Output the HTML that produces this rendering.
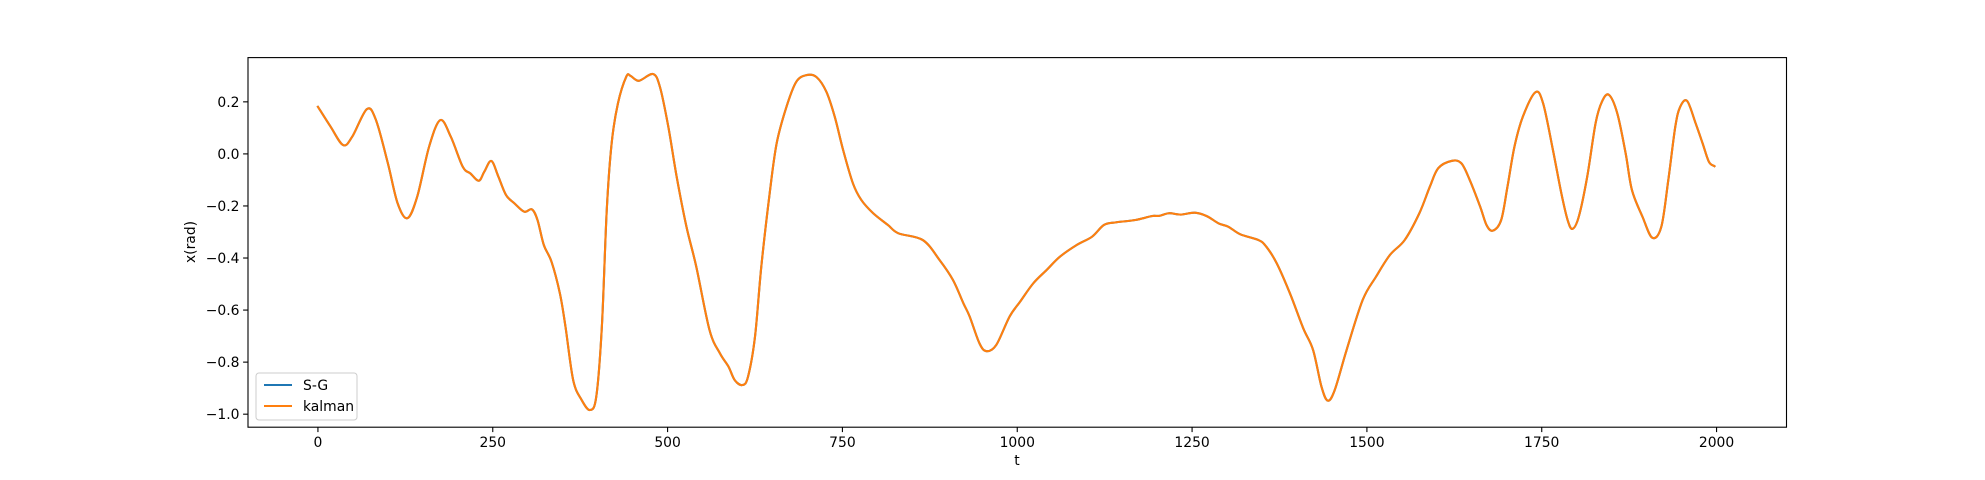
<!DOCTYPE html>
<html><head><meta charset="utf-8">
<style>
html,body{margin:0;padding:0;background:#fff;}
svg{display:block;font-family:"DejaVu Sans","Liberation Sans",sans-serif;}
</style></head>
<body>
<svg id="chart" width="1985" height="480" viewBox="0 0 1985 480" xmlns="http://www.w3.org/2000/svg">
<rect x="0" y="0" width="1985" height="480" fill="#fff"/>
<g id="plot"></g>
<g id="axes"></g>
</svg>
<script>
const tValues=[0,18,36,49,70,83,100,114,128,142,159,175,190,207,218,230,238,248,258,269,281,295,306,314,323,334,346,354,365,377,389,398,406,413,420,429,441,447,459,479,489,501,513,527,541,560,575,587,596,607,615,625,634,646,656,670,684,699,713,727,739,751,765,777,794,815,830,865,889,908,923,932,946,956,970,989,1004,1023,1042,1061,1085,1107,1124,1141,1169,1192,1203,1217,1234,1254,1271,1288,1302,1319,1345,1356,1371,1390,1409,1423,1435,1444,1454,1471,1494,1513,1533,1554,1575,1590,1602,1621,1635,1647,1662,1671,1680,1692,1701,1711,1723,1741,1752,1766,1778,1787,1794,1803,1815,1827,1836,1846,1858,1870,1879,1894,1908,1921,1931,1941,1948,1958,1970,1980,1989,1997];
const kalmanValues=[0.181,0.105,0.034,0.066,0.172,0.13,-0.036,-0.19,-0.247,-0.164,0.028,0.13,0.066,-0.049,-0.075,-0.103,-0.068,-0.027,-0.087,-0.158,-0.19,-0.222,-0.213,-0.254,-0.35,-0.414,-0.536,-0.664,-0.869,-0.945,-0.984,-0.933,-0.664,-0.216,0.041,0.194,0.297,0.3,0.281,0.307,0.258,0.105,-0.088,-0.28,-0.433,-0.677,-0.767,-0.817,-0.869,-0.888,-0.856,-0.702,-0.433,-0.151,0.041,0.181,0.277,0.303,0.295,0.239,0.143,0.015,-0.113,-0.177,-0.228,-0.273,-0.305,-0.331,-0.408,-0.484,-0.574,-0.625,-0.728,-0.758,-0.734,-0.625,-0.568,-0.497,-0.446,-0.395,-0.35,-0.318,-0.273,-0.263,-0.254,-0.239,-0.238,-0.228,-0.233,-0.226,-0.239,-0.267,-0.28,-0.309,-0.331,-0.356,-0.42,-0.536,-0.67,-0.753,-0.894,-0.948,-0.907,-0.753,-0.561,-0.472,-0.388,-0.331,-0.228,-0.126,-0.055,-0.027,-0.036,-0.1,-0.203,-0.273,-0.295,-0.254,-0.126,0.028,0.143,0.237,0.194,0.015,-0.151,-0.254,-0.288,-0.241,-0.088,0.118,0.2,0.227,0.156,0.002,-0.139,-0.241,-0.322,-0.28,-0.1,0.105,0.181,0.203,0.118,0.041,-0.03,-0.047];
const sgValues=kalmanValues.slice();
const xTicks=[0,250,500,750,1000,1250,1500,1750,2000];
const xTickLabels=["0","250","500","750","1000","1250","1500","1750","2000"];
const yTicks=[-1.0,-0.8,-0.6,-0.4,-0.2,0.0,0.2];
const yTickLabels=["\u22121.0","\u22120.8","\u22120.6","\u22120.4","\u22120.2","0.0","0.2"];

const L=248,R=1786.5,T=57.6,B=427.2;
const xMin=-100,xMax=2100,yMin=-1.05,yMax=0.37;
function xs(v){return L+(v-xMin)/(xMax-xMin)*(R-L);}
function ys(v){return B-(v-yMin)/(yMax-yMin)*(B-T);}
const NS="http://www.w3.org/2000/svg";
function mk(tag,attrs,parent){const e=document.createElementNS(NS,tag);for(const k in attrs)e.setAttribute(k,attrs[k]);parent.appendChild(e);return e;}
const plot=document.getElementById('plot');
const axes=document.getElementById('axes');

// smooth path via Catmull-Rom
function pathFor(vals){
  const p=tValues.map((t,i)=>[xs(t),ys(vals[i])]);
  let d="M"+p[0][0].toFixed(2)+","+p[0][1].toFixed(2);
  for(let i=0;i<p.length-1;i++){
    const p0=p[Math.max(0,i-1)],p1=p[i],p2=p[i+1],p3=p[Math.min(p.length-1,i+2)];
    const c1=[p1[0]+(p2[0]-p0[0])/6,p1[1]+(p2[1]-p0[1])/6];
    const c2=[p2[0]-(p3[0]-p1[0])/6,p2[1]-(p3[1]-p1[1])/6];
    d+=" C"+c1[0].toFixed(2)+","+c1[1].toFixed(2)+" "+c2[0].toFixed(2)+","+c2[1].toFixed(2)+" "+p2[0].toFixed(2)+","+p2[1].toFixed(2);
  }
  return d;
}
const sgLine=mk('path',{d:pathFor(sgValues),fill:'none',stroke:'#1f77b4','stroke-width':2.1,'stroke-linejoin':'round','stroke-linecap':'square'},plot);


const kLine=mk('path',{d:pathFor(kalmanValues),fill:'none',stroke:'#ff7f0e','stroke-width':2.1,'stroke-linejoin':'round','stroke-linecap':'square'},plot);



// frame
const frame=mk('rect',{x:L,y:T,width:R-L,height:B-T,fill:'none',stroke:'#000','stroke-width':1.1},axes);



xTicks.forEach((v,i)=>{
  const x=xs(v);
  const tk=mk('line',{x1:x,y1:B,x2:x,y2:B+4.9,stroke:'#000','stroke-width':1.1},axes);
  
  
  const tx=mk('text',{x:x,y:B+20,'text-anchor':'middle','font-size':'13.9px',fill:'#000'},axes);
  tx.textContent=xTickLabels[i];
  
  
});
yTicks.forEach((v,i)=>{
  const y=ys(v);
  const tk=mk('line',{x1:L-4.9,y1:y,x2:L,y2:y,stroke:'#000','stroke-width':1.1},axes);
  
  
  const tx=mk('text',{x:L-8.5,y:y+5,'text-anchor':'end','font-size':'13.9px',fill:'#000'},axes);
  tx.textContent=yTickLabels[i];
  
  
});
</script>
<svg style="position:absolute;left:0;top:0" width="1985" height="480">
<text x="1017" y="465" text-anchor="middle" font-size="13.9px" font-family="DejaVu Sans, Liberation Sans, sans-serif">t</text>
<text x="0" y="0" transform="translate(195,242) rotate(-90)" text-anchor="middle" font-size="13.9px" font-family="DejaVu Sans, Liberation Sans, sans-serif">x(rad)</text>
<g>
<rect x="256" y="373" width="101" height="47" rx="3" fill="#fff" fill-opacity="0.8" stroke="#ccc" stroke-width="1"/>
<line x1="264" y1="385" x2="292" y2="385" stroke="#1f77b4" stroke-width="2.1"/>
<text x="303" y="390" font-size="13.9px" font-family="DejaVu Sans, Liberation Sans, sans-serif">S-G</text>
<line x1="264" y1="406" x2="292" y2="406" stroke="#ff7f0e" stroke-width="2.1"/>
<text x="303" y="411" font-size="13.9px" font-family="DejaVu Sans, Liberation Sans, sans-serif">kalman</text>
</g>
</svg>
</body></html>
